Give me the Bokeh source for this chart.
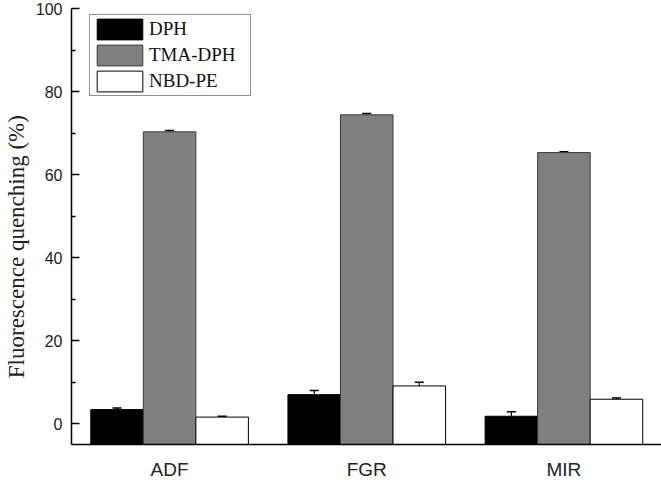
import numpy as np
from bokeh.plotting import figure
from bokeh.models import (ColumnDataSource, Range1d, FixedTicker, Whisker, TeeHead,
                          Legend, LegendItem)
from bokeh.embed import file_html
from bokeh.resources import INLINE

categories = ["ADF", "FGR", "MIR"]
series = ["DPH", "TMA-DPH", "NBD-PE"]
dph = [3.4, 7.0, 1.8]
dph_err = [0.4, 1.0, 1.1]
tma = [70.3, 74.4, 65.3]
tma_err = [0.3, 0.3, 0.2]
nbd = [1.6, 9.1, 5.9]
nbd_err = [0.2, 0.9, 0.3]
y_ticks = [0, 20, 40, 60, 80, 100]
y_minor = [10, 30, 50, 70, 90]
y_title = "Fluorescence quenching (%)"

fills = ["#000000", "#808080", "#ffffff"]
lines = ["#000000", "#3a3a3a", "#000000"]
bar_w = 0.2665
offsets = [-bar_w, 0.0, bar_w]

FH = 436
FW = 591
p = figure(frame_width=FW, frame_height=FH, output_backend="svg", toolbar_location=None,
           x_range=Range1d(0.5025, 3.50), y_range=Range1d(-5, 100),
           min_border_left=70, min_border_right=0, min_border_top=8,
           min_border_bottom=20)
p.outline_line_color = None
p.xgrid.visible = False
p.ygrid.visible = False
p.background_fill_color = "white"
p.border_fill_color = "white"

base = np.arange(1, len(categories) + 1)
items = []
for name, vals, errs, off, fc, lc in zip(series, [dph, tma, nbd], [dph_err, tma_err, nbd_err],
                                          offsets, fills, lines):
    v = np.array(vals)
    e = np.array(errs)
    src = ColumnDataSource(dict(x=base + off, top=v, lower=v - e, upper=v + e))
    r = p.vbar(x="x", top="top", bottom=-5, width=bar_w, source=src,
               fill_color=fc, line_color=lc, line_width=1)
    items.append(LegendItem(label=name, renderers=[r]))
    w = Whisker(base="x", lower="lower", upper="upper", source=src,
                line_color="black", line_width=1.2,
                upper_head=TeeHead(size=9, line_color="black", line_width=1.5),
                lower_head=TeeHead(size=9, line_color="black", line_width=1.5))
    p.add_layout(w)

legend = Legend(items=items, location=(18, FH - 9 - 79), orientation="vertical")
legend.glyph_width = 57
legend.glyph_height = 26
legend.label_height = 26
legend.spacing = 0
legend.padding = 1
legend.margin = 0
legend.label_standoff = 1
legend.label_width = 100
legend.label_text_font = "Liberation Serif"
legend.label_text_font_size = "19px"
legend.label_text_color = "#111111"
legend.border_line_color = "#222222"
legend.border_line_width = 1
legend.background_fill_alpha = 1
p.add_layout(legend, "center")

# y axis
ya = p.yaxis[0]
ya.ticker = FixedTicker(ticks=y_ticks, minor_ticks=y_minor)
ya.major_tick_in = 8
ya.major_tick_out = 0
ya.minor_tick_in = 4
ya.minor_tick_out = 0
ya.axis_line_width = 1.5
ya.major_tick_line_width = 1.5
ya.minor_tick_line_width = 1.5
ya.major_label_standoff = 9
ya.major_label_text_font = "Liberation Sans"
ya.major_label_text_font_size = "16px"
ya.major_label_text_color = "#222222"
# trailing no-break spaces move the rotated title slightly below the frame centre
ya.axis_label = y_title + "\u00a0" * 7
ya.axis_label_text_font = "Liberation Serif"
ya.axis_label_text_font_size = "23px"
ya.axis_label_text_font_style = "normal"
ya.axis_label_text_color = "#222222"
ya.axis_label_standoff = 4

# x axis
xa = p.xaxis[0]
xa.ticker = FixedTicker(ticks=list(base))
xa.major_label_overrides = {int(b): c for b, c in zip(base, categories)}
xa.major_tick_line_color = None
xa.minor_tick_line_color = None
xa.axis_line_width = 1.5
xa.major_label_standoff = 8
xa.major_label_text_font = "Liberation Sans"
xa.major_label_text_font_size = "19px"
xa.major_label_text_color = "#222222"

open("out.html", "w").write(file_html(p, INLINE))
